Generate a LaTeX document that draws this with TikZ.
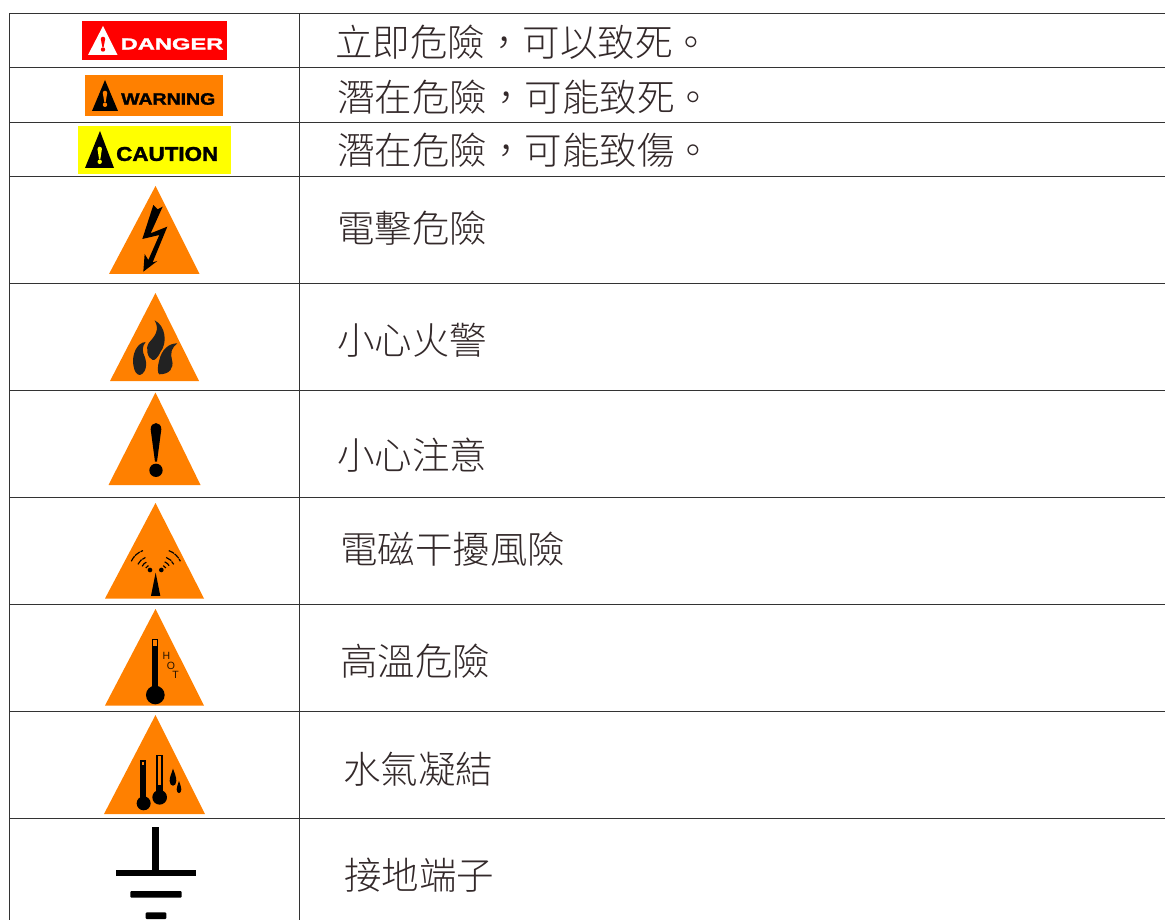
\documentclass[tikz,border=0pt]{standalone}
\usepackage{fontspec}
\usepackage{graphicx}
\setmainfont{Liberation Sans}
\newfontfamily\cjk[UprightFont=* Light]{Noto Sans CJK TC}
\newfontfamily\signfont[FakeBold=1.6]{Liberation Sans Bold}
\definecolor{warnorange}{HTML}{FF8000}
\definecolor{signyellow}{HTML}{FFFF00}
\definecolor{signred}{HTML}{FF0000}
\definecolor{inkbrown}{HTML}{33292A}
\definecolor{flamegray}{HTML}{222222}
\definecolor{rulegray}{HTML}{333333}
\tikzset{
  rowrule/.style={draw=rulegray,line width=1pt},
  label/.style={anchor=west,inner sep=0pt,text=inkbrown,font=\cjk\fontsize{37.5}{37.5}\selectfont},
  hazard/.style={fill=warnorange,draw=none},
  ink/.style={fill=black,draw=none},
  signtext/.style={inner sep=0pt,anchor=west,font=\signfont},
  wave/.style={draw=black,line width=1.15pt,dash pattern=on 6pt off 0.8pt},
  hotletter/.style={inner sep=0pt,text=black!85!warnorange,font=\fontsize{10.5}{10.5}\selectfont}
}
\newcommand{\bangmark}[4]{% x, ytop, ybottom, colour
  \fill[#4] ({#1-2.2},{#2+2.2}) -- ({#1+2.2},{#2+2.2}) -- ({#1+0.6},{#3-4.5}) -- ({#1-0.6},{#3-4.5}) -- cycle;
  \fill[#4] (#1,{#2+2.2}) circle[radius=2.2];
  \fill[#4] (#1,{#3-2.2}) circle[radius=2.2];
}
\begin{document}
\begin{tikzpicture}[x=1pt,y=-1pt]
\useasboundingbox (0,0) rectangle (1165,920);
\fill[white] (0,0) rectangle (1165,920);

% table rules
\foreach \yy in {14,68,122.5,177,283.5,390,497.5,604,711,818}
  \draw[rowrule] (9,\yy) -- (1165,\yy);
\draw[rowrule] (9,14) -- (9,920);
\draw[rowrule] (299.5,14) -- (299.5,920);

% DANGER
\fill[signred] (82.3,21.3) rectangle (226.7,60);
\fill[white] (103,26) -- (117.5,55) -- (88,55) -- cycle;
\bangmark{103}{36.7}{51.7}{signred}
\node[signtext,text=white] (danger) at (120.5,44) {\fontsize{16}{16}\selectfont\scalebox{1.48}[1]{DANGER}};

% WARNING
\fill[warnorange] (84.7,74.7) rectangle (223,116.3);
\fill[black] (105,80) -- (118,111) -- (92,111) -- cycle;
\bangmark{105}{90.7}{107}{warnorange}
\node[signtext,text=black] (warning) at (121,99) {\fontsize{16.5}{16.5}\selectfont\scalebox{1.18}[1]{WARNING}};

% CAUTION
\fill[signyellow] (78,125.7) rectangle (231,174);
\fill[black] (100,131) -- (114,168) -- (85,168) -- cycle;
\bangmark{99.7}{146.7}{164}{signyellow}
\node[signtext,text=black] (caution) at (116,154) {\fontsize{20}{20}\selectfont\scalebox{1.12}[1]{CAUTION}};

% Triangles
\fill[hazard] (155.5,186) -- (199.5,274) -- (109,274) -- cycle;
\fill[hazard] (155.5,293) -- (199,381) -- (110,381) -- cycle;
\fill[hazard] (155.5,392.5) -- (200.5,485) -- (108.5,485) -- cycle;
\fill[hazard] (155.5,503) -- (204,598.5) -- (105,598.5) -- cycle;
\fill[hazard] (155.5,609) -- (204,705.5) -- (105,705.5) -- cycle;
\fill[hazard] (155.5,715) -- (205,814) -- (104,814) -- cycle;

% bolt and flames
\begin{scope}[shift={(80,180)},x=0.3333pt,y=-0.3333pt]
\fill[ink] (220,75) -- (233,88) -- (248,80) -- (212,160) -- (262,140) -- (218,247) -- (232,243) -- (190,275) -- (194,222) -- (205,240) -- (238,165) -- (187,177) -- cycle;
\fill[flamegray] (224,421) .. controls (258,438) and (262,490) .. (242,515) .. controls (232,535) and (224,542) .. (218,540) .. controls (203,535) and (195,505) .. (207,488) .. controls (225,468) and (240,450) .. (224,421) -- cycle;
\fill[flamegray] (197,486) .. controls (170,488) and (155,525) .. (160,555) .. controls (163,575) and (170,585) .. (180,585) .. controls (200,578) and (202,550) .. (194,530) .. controls (187,515) and (185,500) .. (197,486) -- cycle;
\fill[flamegray] (292,490) .. controls (265,490) and (245,510) .. (238,540) .. controls (232,560) and (232,580) .. (238,583) .. controls (268,583) and (283,565) .. (276,540) .. controls (270,520) and (275,502) .. (292,490) -- cycle;
\end{scope}

% exclamation, EMI
\begin{scope}[shift={(80,390)},x=0.3333pt,y=-0.3333pt]
\fill[ink] (212,118) .. controls (212,93) and (244,93) .. (244,118) -- (231,215) -- (225,215) -- cycle;
\fill[ink] (228,241) circle[radius=20];
\fill[ink] (227,548) -- (241,618) -- (213,618) -- cycle;
\foreach \rr in {14,26,40,62} {
  \draw[wave] (210,540) ++(205:\rr) arc[start angle=205,end angle=250,radius=\rr];
  \draw[wave] (245,540) ++(-70:\rr) arc[start angle=-70,end angle=-25,radius=\rr];
}
\fill[ink] (210,540) circle[radius=7];
\fill[ink] (244,540) circle[radius=7];
\end{scope}

% thermometers
\begin{scope}[shift={(80,605)},x=0.3333pt,y=-0.3333pt]
\fill[ink] (216,102) rectangle (235,255);
\fill[warnorange] (220,106) rectangle (231,122);
\fill[ink] (226,270) circle[radius=28];
\node[hotletter] (hotH) at (259,152) {H};
\node[hotletter] (hotO) at (273,183) {O};
\node[hotletter] (hotT) at (287,211) {T};
\fill[ink] (181,466) rectangle (197,580);
\fill[warnorange] (185,470) rectangle (193,480);
\fill[ink] (191,595) circle[radius=21];
\fill[ink] (229,449) rectangle (248,560);
\fill[warnorange] (233,453) rectangle (244,540);
\fill[ink] (239,577) circle[radius=22];
\fill[ink] (279,491) .. controls (284,505) and (289,515) .. (289,528) .. controls (289,547) and (269,547) .. (269,528) .. controls (269,515) and (275,505) .. (279,491) -- cycle;
\fill[ink] (297,528) .. controls (300,538) and (304,545) .. (304,553) .. controls (304,568) and (290,568) .. (290,553) .. controls (290,545) and (294,538) .. (297,528) -- cycle;
\end{scope}

% ground symbol
\fill[ink] (152.3,826.7) rectangle (158.7,872);
\fill[ink] (116,869.7) rectangle (196,876.3);
\fill[ink,rounded corners=1pt] (130.3,891) rectangle (181.7,897.7);
\fill[ink,rounded corners=1pt] (145.7,912.3) rectangle (166.3,919);

% texts
\node[label] (t1) at (335,42) {立即危險，可以致死。};
\node[label] (t2) at (337,97) {潛在危險，可能致死。};
\node[label] (t3) at (337,150) {潛在危險，可能致傷。};
\node[label] (t4) at (337,228) {電擊危險};
\node[label] (t5) at (337,340) {小心火警};
\node[label] (t6) at (337,455) {小心注意};
\node[label] (t7) at (340,549) {電磁干擾風險};
\node[label] (t8) at (340,661) {高溫危險};
\node[label] (t9) at (343,769) {水氣凝結};
\node[label] (t10) at (344,875) {接地端子};
\end{tikzpicture}
\end{document}
